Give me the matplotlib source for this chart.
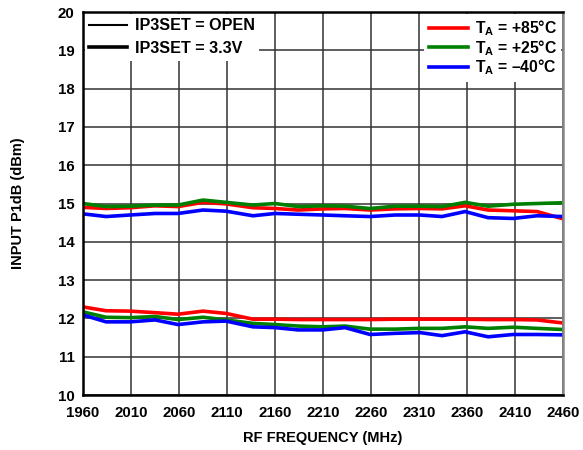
import matplotlib.pyplot as plt
from matplotlib.lines import Line2D
import numpy as np

plt.rcParams['font.family'] = ['Liberation Sans', 'DejaVu Sans']
plt.rcParams['font.weight'] = 'bold'
plt.rcParams['mathtext.fontset'] = 'custom'
plt.rcParams['mathtext.rm'] = 'Liberation Sans:bold'
plt.rcParams['mathtext.bf'] = 'Liberation Sans:bold'
plt.rcParams['mathtext.default'] = 'bf'

freq = [1960, 1984, 2009, 2035, 2059, 2085, 2109, 2137, 2160, 2184, 2210,
        2233, 2259, 2285, 2311, 2334, 2358, 2382, 2408, 2433, 2460]

# IP3SET = 3.3V (upper group)
hi_85 = [14.90, 14.87, 14.89, 14.94, 14.92, 15.03, 14.99, 14.89, 14.87, 14.83, 14.86,
         14.87, 14.83, 14.86, 14.87, 14.86, 14.94, 14.83, 14.81, 14.79, 14.60]
hi_25 = [15.00, 14.92, 14.93, 14.96, 14.96, 15.09, 15.03, 14.96, 15.00, 14.92, 14.94,
         14.93, 14.87, 14.93, 14.93, 14.92, 15.03, 14.93, 14.98, 15.00, 15.02]
hi_m40 = [14.73, 14.66, 14.70, 14.74, 14.74, 14.83, 14.80, 14.68, 14.74, 14.72, 14.70,
          14.68, 14.66, 14.70, 14.70, 14.66, 14.79, 14.63, 14.61, 14.68, 14.66]

# IP3SET = OPEN (lower group)
lo_85 = [12.30, 12.20, 12.19, 12.15, 12.11, 12.19, 12.13, 11.98, 11.98, 11.97, 11.97,
         11.97, 11.97, 11.98, 11.98, 11.98, 11.98, 11.97, 11.97, 11.96, 11.88]
lo_25 = [12.17, 12.03, 12.02, 12.05, 11.97, 12.03, 11.96, 11.87, 11.84, 11.80, 11.78,
         11.80, 11.72, 11.72, 11.74, 11.74, 11.78, 11.74, 11.77, 11.74, 11.71]
lo_m40 = [12.09, 11.91, 11.91, 11.96, 11.84, 11.91, 11.93, 11.78, 11.76, 11.70, 11.70,
          11.76, 11.58, 11.61, 11.63, 11.55, 11.65, 11.52, 11.58, 11.58, 11.57]

xticks = np.arange(1960, 2461, 50)
yticks = np.arange(10, 21, 1)

red, green, blue = '#FF0000', '#008000', '#0000FF'

fig = plt.figure(figsize=(5.83, 4.5), dpi=100)
ax = fig.add_axes([0.1424, 0.1222, 0.8233, 0.8511])

lw = 2.6
ax.plot(freq, lo_85, color=red, lw=lw)
ax.plot(freq, lo_25, color=green, lw=lw)
ax.plot(freq, lo_m40, color=blue, lw=lw)
ax.plot(freq, hi_85, color=red, lw=lw)
ax.plot(freq, hi_25, color=green, lw=lw)
ax.plot(freq, hi_m40, color=blue, lw=lw)

ax.set_xlim(1960, 2460)
ax.set_ylim(10, 20)
ax.set_xticks(xticks)
ax.set_yticks(yticks)
ax.tick_params(length=0, labelsize=10.8)
ax.tick_params(axis='x', pad=8)
ax.tick_params(axis='y', pad=6)
ax.grid(True, color='#333333', lw=1.1)
ax.set_axisbelow(True)
for s in ax.spines.values():
    s.set_linewidth(1.8)
    s.set_color('black')
ax.spines['right'].set_color('#888888')

ax.set_xlabel('RF FREQUENCY (MHz)', fontsize=10.5, fontweight='bold', labelpad=8)
ax.set_ylabel('INPUT P1dB (dBm)', fontsize=10.5, fontweight='bold', labelpad=24)

# left legend (supply setting)
h1 = [Line2D([], [], color='black', lw=1.5), Line2D([], [], color='black', lw=2.6)]
leg1 = ax.legend(h1, ['IP3SET = OPEN', 'IP3SET = 3.3V'], loc='upper left',
                 fontsize=11.6, frameon=True, fancybox=False, framealpha=1,
                 edgecolor='none', facecolor='white', handlelength=2.3,
                 handletextpad=0.5, labelspacing=0.45, borderpad=0.3,
                 borderaxespad=0.1)
ax.add_artist(leg1)

# right legend (temperature)
h2 = [Line2D([], [], color=c, lw=2.6) for c in (red, green, blue)]
ax.legend(h2, [r'T$_A$ = +85°C', r'T$_A$ = +25°C', r'T$_A$ = –40°C'],
          loc='upper right', fontsize=11.3, frameon=True, fancybox=False,
          framealpha=1, edgecolor='none', facecolor='white', handlelength=2.5,
          handletextpad=0.4, labelspacing=0.0, borderpad=0.3,
          borderaxespad=0.1)

plt.savefig('out.png', dpi=100)
